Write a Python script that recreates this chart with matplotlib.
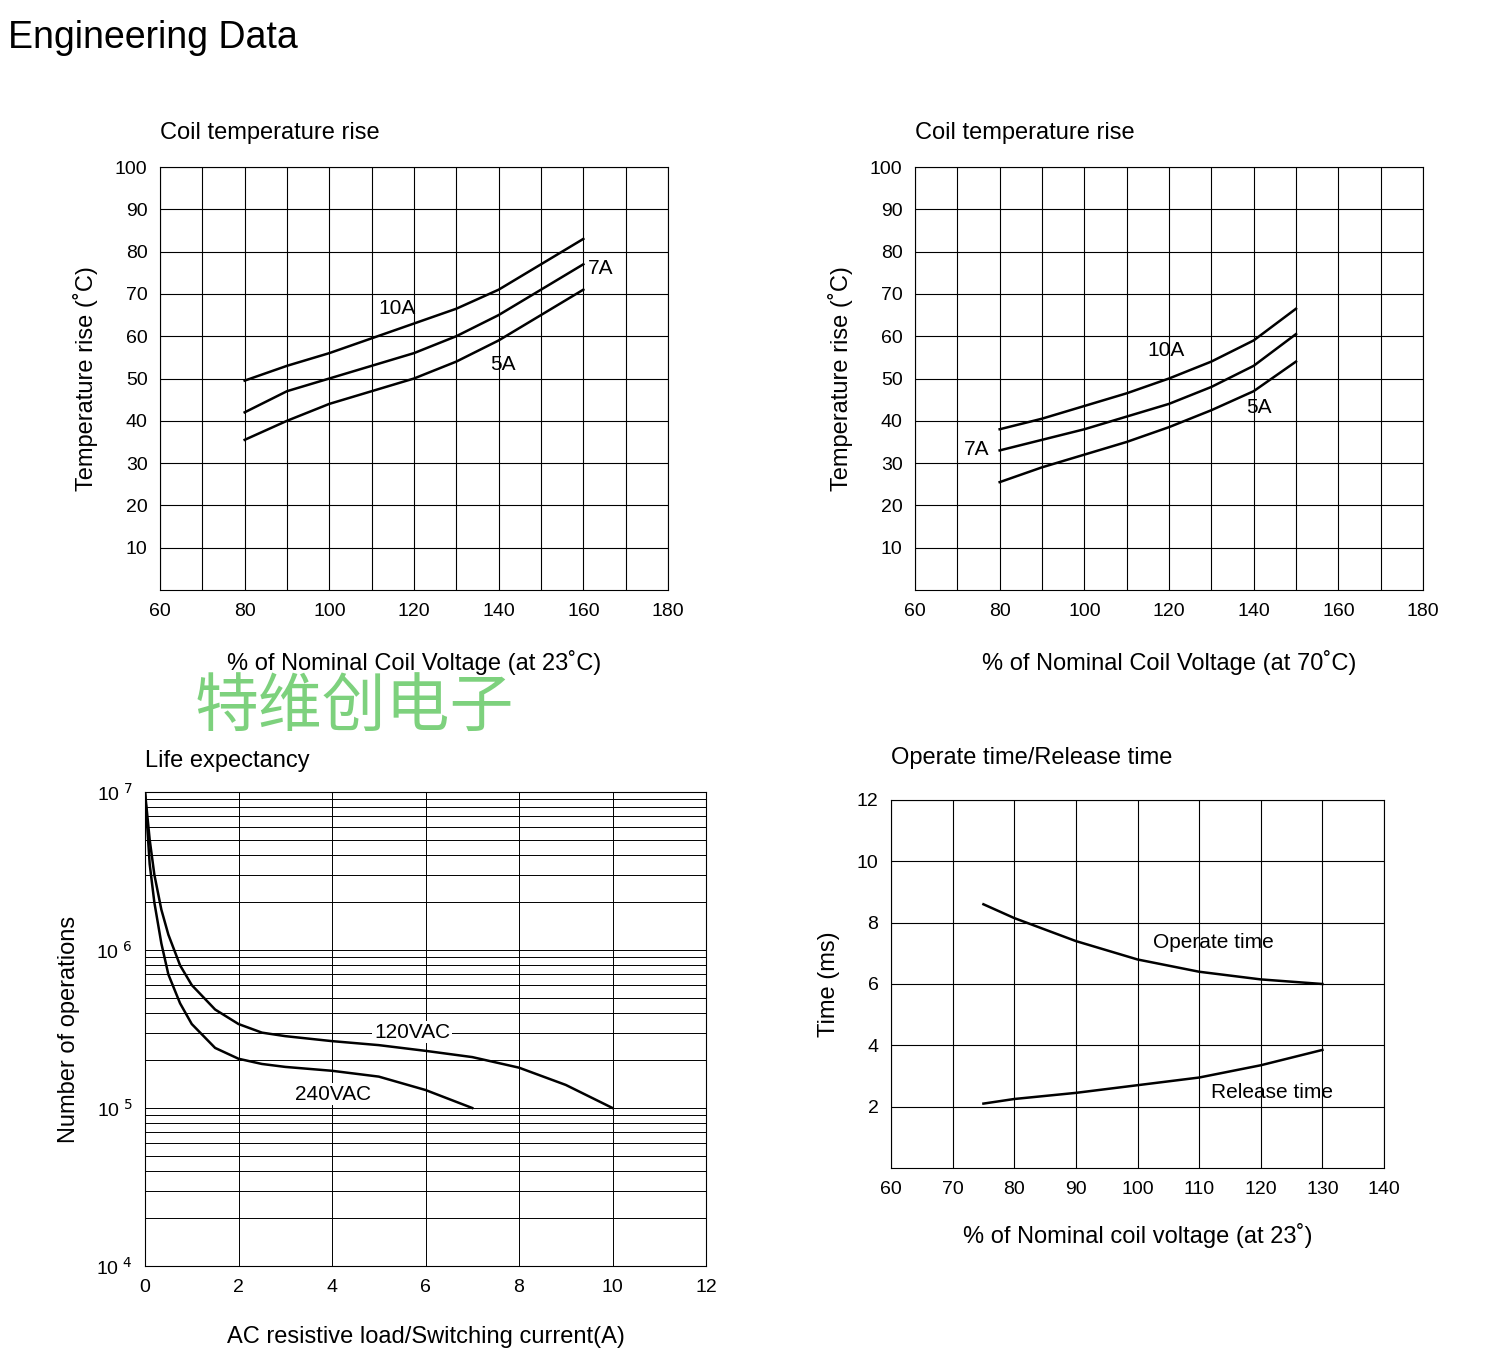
import matplotlib.pyplot as plt
import numpy as np

plt.rcParams['font.family'] = ['Liberation Sans', 'DejaVu Sans']

# coil temperature rise at 23C
v23 = [80, 90, 100, 110, 120, 130, 140, 150, 160]
t23_10a = [49.5, 53, 56, 59.5, 63, 66.5, 71, 77, 83]
t23_7a = [42, 47, 50, 53, 56, 60, 65, 71, 77]
t23_5a = [35.5, 40, 44, 47, 50, 54, 59, 65, 71]

# coil temperature rise at 70C
v70 = [80, 90, 100, 110, 120, 130, 140, 150]
t70_10a = [38, 40.5, 43.5, 46.5, 50, 54, 59, 66.5]
t70_7a = [33, 35.5, 38, 41, 44, 48, 53, 60.5]
t70_5a = [25.5, 29, 32, 35, 38.5, 42.5, 47, 54]

# life expectancy
i_120 = [0, 0.1, 0.2, 0.35, 0.5, 0.75, 1, 1.5, 2, 2.5, 3, 4, 5, 6, 7, 8, 9, 10]
n_120 = [1e7, 5e6, 3e6, 1.8e6, 1.25e6, 8e5, 6e5, 4.2e5, 3.4e5, 3e5, 2.85e5, 2.65e5, 2.5e5, 2.3e5, 2.1e5, 1.8e5, 1.4e5, 1e5]
i_240 = [0, 0.1, 0.2, 0.35, 0.5, 0.75, 1, 1.5, 2, 2.5, 3, 4, 5, 6, 7]
n_240 = [1e7, 3.5e6, 2e6, 1.1e6, 7e5, 4.6e5, 3.4e5, 2.4e5, 2.05e5, 1.9e5, 1.82e5, 1.72e5, 1.58e5, 1.3e5, 1e5]

# operate / release time
v_op = [75, 80, 90, 100, 110, 120, 130]
t_op = [8.6, 8.15, 7.4, 6.8, 6.4, 6.15, 6.0]
t_rel = [2.1, 2.25, 2.45, 2.7, 2.95, 3.35, 3.85]

W, H = 1495, 1365
fig = plt.figure(figsize=(W / 100, H / 100), dpi=100)


def box(x0, y0, x1, y1):
    return fig.add_axes([x0 / W, 1 - y1 / H, (x1 - x0) / W, (y1 - y0) / H])


def style(ax):
    ax.grid(True, color='black', linewidth=0.8)
    ax.tick_params(length=0, labelsize=14, pad=9)
    for s in ax.spines.values():
        s.set_linewidth(0.8)


fig.text(8 / W, 1 - 38 / H, 'Engineering Data', fontsize=27, va='center')
fig.text(195 / W, 1 - 708 / H, '特维创电子', fontsize=46, color='#7dd17d', va='center',
         family=['Noto Sans CJK SC'])

for (x0, x1), v, c10, c7, c5, xl, labs in [
    ((160, 668), v23, t23_10a, t23_7a, t23_5a, '% of Nominal Coil Voltage (at 23˚C)',
     [(397, 308, '10A'), (601, 268, '7A'), (503, 365, '5A')]),
    ((915, 1423), v70, t70_10a, t70_7a, t70_5a, '% of Nominal Coil Voltage (at 70˚C)',
     [(1166, 350, '10A'), (977, 450, '7A'), (1259, 407, '5A')]),
]:
    ax = box(x0, 167, x1, 590)
    style(ax)
    for y in (c10, c7, c5):
        ax.plot(v, y, color='black', linewidth=1.8)
    ax.set_xlim(60, 180)
    ax.set_ylim(0, 100)
    ax.set_xticks(range(60, 181, 10))
    ax.set_xticklabels([str(t) if t % 20 == 0 else '' for t in range(60, 181, 10)])
    ax.set_yticks(range(10, 101, 10))
    ax.set_xlabel(xl, fontsize=17, labelpad=22)
    ax.set_ylabel('Temperature rise (˚C)', fontsize=17, labelpad=12)
    ax.set_title('Coil temperature rise', fontsize=17, loc='left', pad=20)
    for px, py, t in labs:
        fig.text(px / W, 1 - py / H, t, fontsize=15, ha='center', va='center')

ax = box(145, 792, 706, 1266)
ax.set_yscale('log')
ax.set_xlim(0, 12)
ax.set_ylim(1e4, 1e7)
ax.plot(i_120, n_120, color='black', linewidth=1.8)
ax.plot(i_240, n_240, color='black', linewidth=1.8)
ax.set_xticks(range(0, 13, 2))
ax.set_yticks([1e4, 1e5, 1e6, 1e7])
ax.set_yticklabels([r'10$^{\ 4}$', r'10$^{\ 5}$', r'10$^{\ 6}$', r'10$^{\ 7}$'])
ax.yaxis.set_minor_locator(plt.matplotlib.ticker.LogLocator(subs=np.arange(2, 10)))
ax.yaxis.set_minor_formatter(plt.NullFormatter())
ax.grid(True, which='both', color='black', linewidth=0.7)
ax.tick_params(which='both', length=0, labelsize=14, pad=9)
ax.set_xlabel('AC resistive load/Switching current(A)', fontsize=17, labelpad=22)
ax.set_ylabel('Number of operations', fontsize=17, labelpad=12)
ax.set_title('Life expectancy', fontsize=17, loc='left', pad=18)
fig.text(412 / W, 1 - 1032 / H, '120VAC', fontsize=15, ha='center', va='center',
         bbox=dict(facecolor='white', edgecolor='none', pad=1))
fig.text(333 / W, 1 - 1094 / H, '240VAC', fontsize=15, ha='center', va='center',
         bbox=dict(facecolor='white', edgecolor='none', pad=1))

ax = box(891, 800, 1384, 1168)
style(ax)
ax.plot(v_op, t_op, color='black', linewidth=1.8)
ax.plot(v_op, t_rel, color='black', linewidth=1.8)
ax.set_xlim(60, 140)
ax.set_ylim(0, 12)
ax.set_xticks(range(60, 141, 10))
ax.set_yticks(range(2, 13, 2))
ax.set_xlabel('% of Nominal coil voltage (at 23˚)', fontsize=17, labelpad=18)
ax.set_ylabel('Time (ms)', fontsize=17, labelpad=12)
ax.set_title('Operate time/Release time', fontsize=17, loc='left', pad=26)
fig.text(1213 / W, 1 - 942 / H, 'Operate time', fontsize=15, ha='center', va='center')
fig.text(1272 / W, 1 - 1092 / H, 'Release time', fontsize=15, ha='center', va='center')

fig.savefig('out.png', dpi=100)
